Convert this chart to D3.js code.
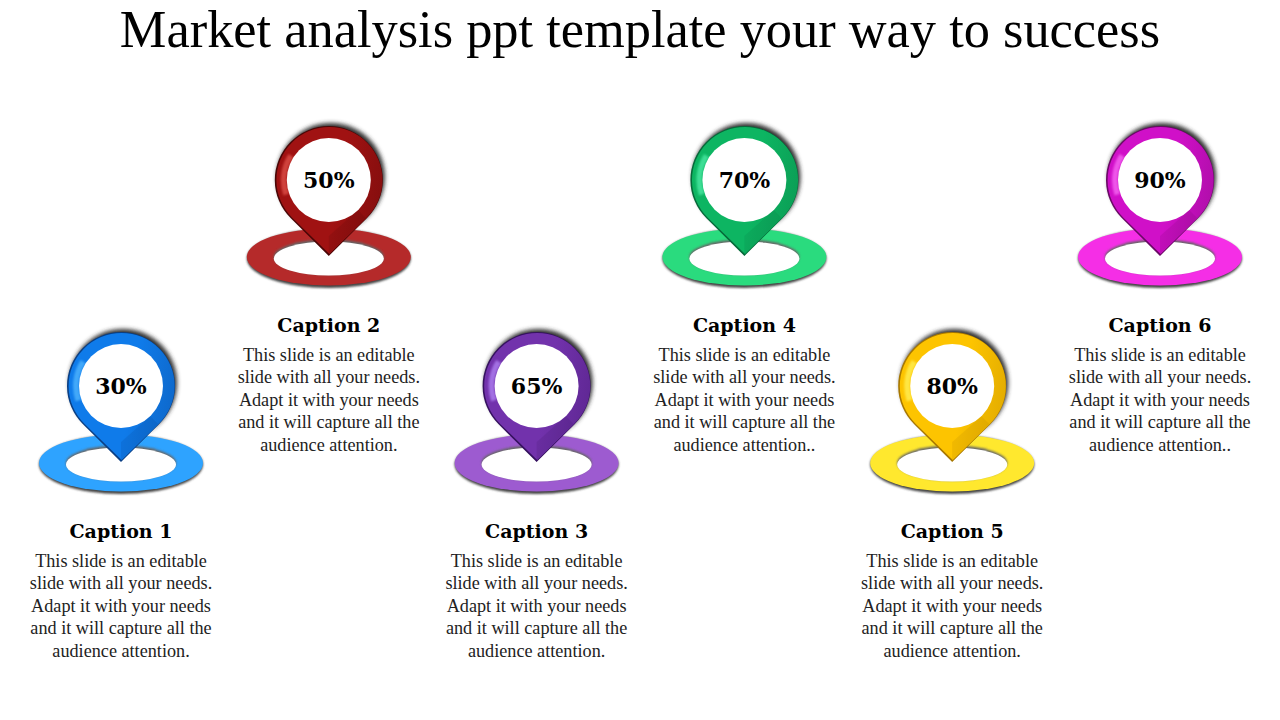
<!DOCTYPE html>
<html>
<head>
<title>Market analysis</title>
<script src="https://cdn.jsdelivr.net/npm/d3@7"></script>
<style>
html, body { margin: 0; padding: 0; background: #fff; }
svg { display: block; }
text { font-family: "Liberation Serif", serif; text-anchor: middle; }
.title { font-size: 52.4px; fill: #000; }
.head { font-family: "DejaVu Serif", serif; font-size: 19px; font-weight: bold; fill: #000; }
.pct { font-family: "DejaVu Serif", serif; font-size: 22px; font-weight: bold; fill: #000; }
.body { font-size: 18.2px; fill: #222; }
</style>
</head>
<body>
<svg id="chart" width="1280" height="720"></svg>
<script>
var TITLE = 'Market analysis ppt template your way to success';
var captions = ['Caption 1', 'Caption 2', 'Caption 3', 'Caption 4', 'Caption 5', 'Caption 6'];
var percents = [30, 50, 65, 70, 80, 90];
var rows = ['low', 'high', 'low', 'high', 'low', 'high'];
var bodyLines = ['This slide is an editable', 'slide with all your needs.', 'Adapt it with your needs', 'and it will capture all the', 'audience attention.'];
var bodyLinesDots = ['This slide is an editable', 'slide with all your needs.', 'Adapt it with your needs', 'and it will capture all the', 'audience attention..'];
var bodies = [bodyLines, bodyLines, bodyLines, bodyLinesDots, bodyLines, bodyLinesDots];

var ringColors = ['#2ea3ff', '#b52a2a', '#9d5bd0', '#2adb7e', '#ffe82e', '#f52ee6'];
var pinColors = ['#0f7bea', '#a01212', '#7232ac', '#0db562', '#fdc400', '#d010c8'];
var darkColors = ['#0a3f85', '#4a0606', '#35115f', '#066a3a', '#a87800', '#6a0866'];
var lightColors = ['#52b8ff', '#e0524c', '#b285f5', '#4deba6', '#fff25a', '#f86cf4'];

var R = 54, HOLE = 42, TIP = 76;

var svg = d3.select('#chart');
var x = d3.scalePoint().domain(d3.range(captions.length)).range([121, 1160]);
var y = d3.scaleOrdinal().domain(['high', 'low']).range([180, 386]);

var defs = svg.append('defs');
defs.append('filter').attr('id', 'blur').attr('x', '-30%').attr('y', '-30%').attr('width', '160%').attr('height', '160%')
  .append('feGaussianBlur').attr('stdDeviation', 2.2);
defs.append('filter').attr('id', 'soft').attr('x', '-20%').attr('y', '-20%').attr('width', '140%').attr('height', '140%')
  .append('feGaussianBlur').attr('stdDeviation', 1);

captions.forEach(function(c, i) {
  var g = defs.append('linearGradient').attr('id', 'bevel' + i)
    .attr('x1', 0).attr('y1', 0.3).attr('x2', 1).attr('y2', 0.5);
  g.append('stop').attr('offset', 0).attr('stop-color', pinColors[i]);
  g.append('stop').attr('offset', 0.6).attr('stop-color', pinColors[i]);
  g.append('stop').attr('offset', 1).attr('stop-color', d3.interpolateRgb(pinColors[i], darkColors[i])(0.3));
});

// teardrop outline, centre at 0,0 and tip straight below
var pinPath = function(r, tip) {
  var a = Math.acos(r / tip);
  var p = d3.path();
  p.moveTo(0, tip);
  p.lineTo(-r * Math.sin(a), r * Math.cos(a));
  p.arc(0, 0, r, Math.PI / 2 + a, Math.PI / 2 - a);
  p.closePath();
  return p.toString();
};

// darker fold on the right of the tip
var foldPath = function(r, tip) {
  var a = Math.acos(r / tip);
  var p = d3.path();
  p.moveTo(0, tip);
  p.lineTo(0, HOLE + 14);
  p.lineTo(HOLE * Math.sin(a), HOLE * Math.cos(a));
  p.lineTo(r * Math.sin(a), r * Math.cos(a));
  p.closePath();
  return p.toString();
};

svg.append('text').attr('class', 'title').attr('x', 640).attr('y', 47).text(TITLE);

var item = svg.selectAll('g.item').data(captions).join('g')
  .attr('class', 'item')
  .attr('transform', function(d, i) { return 'translate(' + x(i) + ',' + y(rows[i]) + ')'; });

// ring on the floor
item.append('ellipse').attr('cx', 0).attr('cy', 78.5).attr('rx', 82).attr('ry', 29.5)
  .attr('fill', '#444').attr('filter', 'url(#soft)');
item.append('ellipse').attr('cx', 0).attr('cy', 77).attr('rx', 82).attr('ry', 28.5)
  .attr('fill', function(d, i) { return ringColors[i]; });
item.append('ellipse').attr('cx', 0).attr('cy', 77).attr('rx', 55).attr('ry', 17.5)
  .attr('fill', '#666').attr('filter', 'url(#soft)');
item.append('ellipse').attr('cx', 0).attr('cy', 78.5).attr('rx', 55).attr('ry', 17)
  .attr('fill', '#fff');

// pin with shadow, bevel and white hole
item.append('circle').attr('r', R).attr('cx', 2).attr('cy', -3)
  .attr('fill', '#333').attr('filter', 'url(#blur)');
item.append('path').attr('d', pinPath(R, TIP))
  .attr('fill', function(d, i) { return darkColors[i]; });
item.append('path').attr('d', pinPath(R - 1, TIP - 2)).attr('transform', 'translate(0.6,0)')
  .attr('fill', function(d, i) { return 'url(#bevel' + i + ')'; });
item.append('path').attr('d', foldPath(R - 1, TIP - 2))
  .attr('fill', function(d, i) { return darkColors[i]; }).attr('opacity', 0.15);
item.append('path')
  .attr('d', d3.arc().innerRadius(HOLE).outerRadius(R - 6).startAngle(-1.9).endAngle(-1.0)())
  .attr('fill', function(d, i) { return lightColors[i]; }).attr('filter', 'url(#soft)').attr('opacity', 0.75);
item.append('circle').attr('r', HOLE).attr('fill', '#fff');

item.append('text').attr('class', 'pct').attr('y', 8)
  .text(function(d, i) { return percents[i] + '%'; });

item.append('text').attr('class', 'head').attr('y', 152).text(function(d) { return d; });

var body = item.append('text').attr('class', 'body');
body.selectAll('tspan').data(function(d, i) { return bodies[i]; }).join('tspan')
  .attr('x', 0)
  .attr('y', function(d, j) { return 180.5 + j * 22.5; })
  .text(function(d) { return d; });
</script>
</body>
</html>
